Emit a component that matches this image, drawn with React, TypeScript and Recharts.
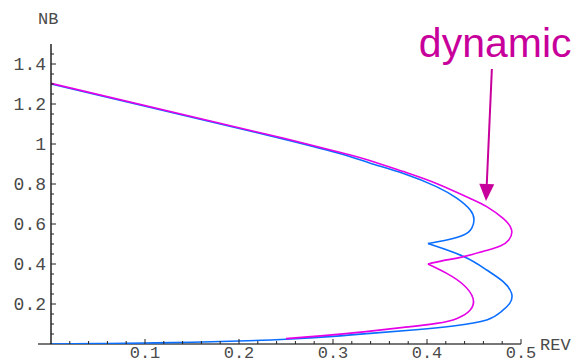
import React from 'react';
import { LineChart, Line, XAxis, YAxis, ReferenceLine, Label } from 'recharts';

// ---- data ----
const blueTopStraight = [
  { x: 0, y: 1.3 },
  { x: 0.25, y: 1.022 },
];
const blueUpper = [
  { x: 0.25, y: 1.022 },
  { x: 0.307, y: 0.953 },
  { x: 0.339, y: 0.905 },
  { x: 0.375, y: 0.853 },
  { x: 0.41, y: 0.787 },
  { x: 0.432, y: 0.728 },
  { x: 0.446, y: 0.67 },
  { x: 0.45, y: 0.622 },
  { x: 0.4475, y: 0.578 },
  { x: 0.439, y: 0.545 },
  { x: 0.421, y: 0.52 },
  { x: 0.401, y: 0.502 },
];
const blueLower = [
  { x: 0.401, y: 0.502 },
  { x: 0.439, y: 0.437 },
  { x: 0.4635, y: 0.37 },
  { x: 0.481, y: 0.312 },
  { x: 0.49, y: 0.253 },
  { x: 0.488, y: 0.203 },
  { x: 0.479, y: 0.162 },
  { x: 0.4635, y: 0.12 },
  { x: 0.428, y: 0.09 },
  { x: 0.385, y: 0.07 },
  { x: 0.336, y: 0.052 },
];
const blueTail = [
  { x: 0.336, y: 0.052 },
  { x: 0.3, y: 0.038 },
  { x: 0.25, y: 0.024 },
  { x: 0.2, y: 0.015 },
  { x: 0.15, y: 0.009 },
  { x: 0.1, y: 0.005 },
  { x: 0.05, y: 0.002 },
  { x: 0, y: 0 },
];
const magentaTopStraight = [
  { x: 0, y: 1.303 },
  { x: 0.25, y: 1.026 },
];
const magentaUpper = [
  { x: 0.25, y: 1.026 },
  { x: 0.307, y: 0.959 },
  { x: 0.339, y: 0.918 },
  { x: 0.375, y: 0.862 },
  { x: 0.41, y: 0.803 },
  { x: 0.446, y: 0.728 },
  { x: 0.4635, y: 0.687 },
  { x: 0.481, y: 0.628 },
  { x: 0.49, y: 0.57 },
  { x: 0.487, y: 0.52 },
  { x: 0.478, y: 0.49 },
  { x: 0.4635, y: 0.468 },
  { x: 0.439, y: 0.437 },
  { x: 0.417, y: 0.417 },
  { x: 0.401, y: 0.4 },
];
const magentaLower = [
  { x: 0.401, y: 0.4 },
  { x: 0.421, y: 0.353 },
  { x: 0.439, y: 0.295 },
  { x: 0.449, y: 0.228 },
  { x: 0.446, y: 0.17 },
  { x: 0.432, y: 0.128 },
  { x: 0.41, y: 0.103 },
  { x: 0.375, y: 0.083 },
  { x: 0.335, y: 0.062 },
  { x: 0.29, y: 0.042 },
  { x: 0.25, y: 0.027 },
];

const xTicks = [0.02, 0.04, 0.06, 0.08, 0.1, 0.12, 0.14, 0.16, 0.18, 0.2, 0.22, 0.24, 0.26, 0.28, 0.3,
  0.32, 0.34, 0.36, 0.38, 0.4, 0.42, 0.44, 0.46, 0.48, 0.5];
const xMajorTicks = [0.1, 0.2, 0.3, 0.4, 0.5];
const xTickLabels = ['0.1', '0.2', '0.3', '0.4', '0.5'];
const yTicks = [0.05, 0.1, 0.15, 0.2, 0.25, 0.3, 0.35, 0.4, 0.45, 0.5, 0.55, 0.6, 0.65, 0.7, 0.75, 0.8,
  0.85, 0.9, 0.95, 1, 1.05, 1.1, 1.15, 1.2, 1.25, 1.3, 1.35, 1.4, 1.45];
const yMajorTicks = [0.2, 0.4, 0.6, 0.8, 1, 1.2, 1.4];
const yTickLabels = ['0.2', '0.4', '0.6', '0.8', '1', '1.2', '1.4'];

const BLUE = '#0a6eff';
const MAGENTA = '#e600e6';
const ANNOT = '#c8009b';
const MONO = '"Liberation Mono", "DejaVu Sans Mono", monospace';
const TXT = '#4a4a4a';

const findIdx = (arr: number[], v: number) => arr.findIndex((t) => Math.abs(t - v) < 1e-6);

const XTick = (props: any) => {
  const { x, y, payload } = props;
  const idx = findIdx(xMajorTicks, payload.value);
  const major = idx >= 0;
  return (
    <g>
      <line x1={x} x2={x} y1={y} y2={y - (major ? 5 : 3)} stroke="#222" strokeWidth={1} />
      {major && (
        <text x={x} y={y + 14} textAnchor="middle" fontFamily={MONO} fontSize={17} fill={TXT}>
          {xTickLabels[idx]}
        </text>
      )}
    </g>
  );
};

const YTick = (props: any) => {
  const { x, y, payload } = props;
  const idx = findIdx(yMajorTicks, payload.value);
  const major = idx >= 0;
  return (
    <g>
      <line x1={x} x2={x + (major ? 5 : 3)} y1={y} y2={y} stroke="#222" strokeWidth={1} />
      {major && (
        <text x={x - 5} y={y + 6} textAnchor="end" fontFamily={MONO} fontSize={18} fill={TXT}>
          {yTickLabels[idx]}
        </text>
      )}
    </g>
  );
};

const ArrowShape = (props: any) => {
  const { x1, y1, x2, y2 } = props;
  if ([x1, y1, x2, y2].some((v) => typeof v !== 'number' || isNaN(v))) return <g />;
  const dx = x2 - x1;
  const dy = y2 - y1;
  const len = Math.sqrt(dx * dx + dy * dy);
  const ux = dx / len;
  const uy = dy / len;
  const headLen = 17;
  const halfW = 7.5;
  const bx = x2 - ux * headLen;
  const by = y2 - uy * headLen;
  const px = -uy;
  const py = ux;
  return (
    <g>
      <text x={x1 - 73} y={y1 - 12} fontFamily='"Liberation Sans", Arial, sans-serif' fontSize={41} fill={ANNOT}>
        dynamic
      </text>
      <line x1={x1} y1={y1} x2={bx} y2={by} stroke={ANNOT} strokeWidth={2} />
      <polygon
        points={`${x2},${y2} ${bx + px * halfW},${by + py * halfW} ${bx - px * halfW},${by - py * halfW}`}
        fill={ANNOT}
      />
    </g>
  );
};

const line = (data: any[], color: string, type: any, key: string) => (
  <Line
    key={key}
    data={data}
    dataKey="y"
    type={type}
    stroke={color}
    strokeWidth={1.6}
    dot={false}
    activeDot={false}
    isAnimationActive={false}
  />
);

export default function App() {
  return (
    <div style={{ position: 'absolute', left: 0, top: 0, width: 573, height: 364, background: '#fff' }}>
      <LineChart width={573} height={364} margin={{ top: 44, right: 52, bottom: 19, left: 50 }}>
        <XAxis
          type="number"
          dataKey="x"
          domain={[0, 0.5]}
          allowDataOverflow
          ticks={xTicks}
          interval={0}
          height={1}
          tickSize={0}
          tickMargin={0}
          axisLine={false}
          tickLine={false}
          tick={<XTick />}
        >
          <Label
            content={() => (
              <text x={540} y={350} fontFamily={MONO} fontSize={17} fill={TXT}>
                REV
              </text>
            )}
          />
        </XAxis>
        <YAxis
          type="number"
          domain={[0, 1.5]}
          allowDataOverflow
          ticks={yTicks}
          interval={0}
          width={1}
          tickSize={0}
          tickMargin={0}
          axisLine={{ stroke: '#000', strokeWidth: 1.3 }}
          tickLine={false}
          tick={<YTick />}
        >
          <Label
            content={() => (
              <text x={38} y={24} fontFamily={MONO} fontSize={17} fill={TXT}>
                NB
              </text>
            )}
          />
        </YAxis>
        <ReferenceLine
          segment={[{ x: -0.0138, y: 0 }, { x: 0.5, y: 0 }]}
          ifOverflow="visible"
          stroke="#777"
          strokeWidth={2}
        />
        {line(blueTopStraight, BLUE, 'linear', 'b0')}
        {line(blueUpper, BLUE, 'natural', 'b1')}
        {line(blueLower, BLUE, 'natural', 'b2')}
        {line(blueTail, BLUE, 'natural', 'b3')}
        {line(magentaTopStraight, MAGENTA, 'linear', 'm0')}
        {line(magentaUpper, MAGENTA, 'natural', 'm1')}
        {line(magentaLower, MAGENTA, 'natural', 'm2')}
        <ReferenceLine
          segment={[{ x: 0.469, y: 1.375 }, { x: 0.4628, y: 0.715 }]}
          ifOverflow="visible"
          stroke={ANNOT}
          shape={<ArrowShape />}
        />
      </LineChart>
    </div>
  );
}
